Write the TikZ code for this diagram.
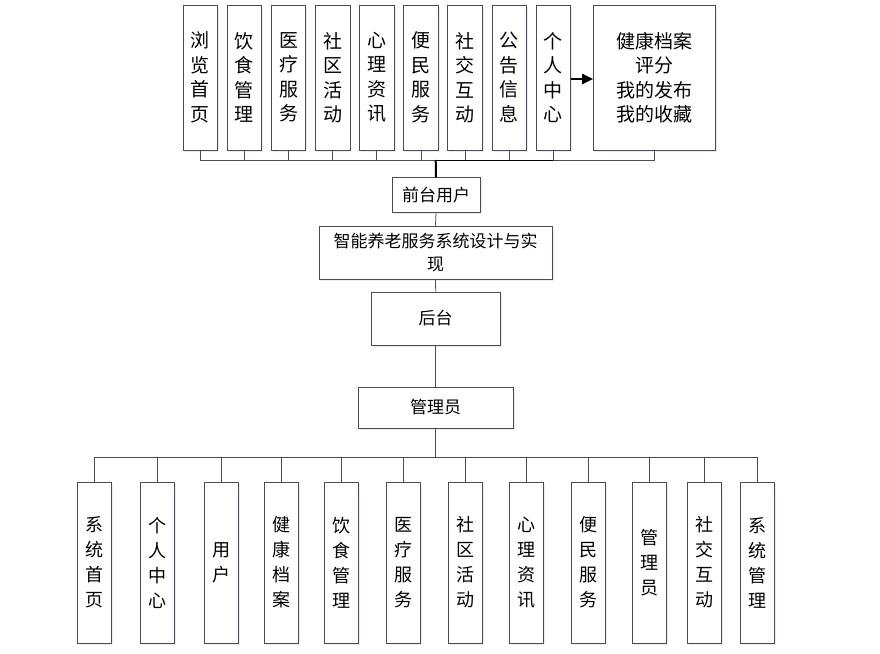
\documentclass[tikz,border=0pt]{standalone}
\usepackage{fontspec}
\setmainfont{Noto Sans CJK SC}
\usetikzlibrary{arrows.meta,shadows}
\begin{document}
\begin{tikzpicture}[x=1pt,y=-1pt,
  box/.style={draw=black!70,line width=0.8pt,fill=white,inner sep=0pt,align=center,
    drop shadow={shadow xshift=1.5pt,shadow yshift=-1.5pt,fill=blue!10,opacity=0.8}},
  topbox/.style={box,minimum width=34.5pt,minimum height=145pt,font=\fontsize{19}{24.5}\selectfont},
  botbox/.style={box,minimum width=34pt,minimum height=161pt,font=\fontsize{18}{25}\selectfont},
  midbox/.style={box,font=\fontsize{17}{23.5}\selectfont},
  bus/.style={draw=black!70,line width=0.8pt},
  darkline/.style={draw=black,line width=1pt},
  thickline/.style={draw=black,line width=2pt}]
\useasboundingbox (0,0) rectangle (880,653);

% top boxes
\node[topbox] (t1) at (200.2,77.5) {浏\\览\\首\\页};
\node[topbox] (t2) at (244.4,77.5) {饮\\食\\管\\理};
\node[topbox] (t3) at (288.5,77.5) {医\\疗\\服\\务};
\node[topbox] (t4) at (332.7,77.5) {社\\区\\活\\动};
\node[topbox] (t5) at (376.8,77.5) {心\\理\\资\\讯};
\node[topbox] (t6) at (421.0,77.5) {便\\民\\服\\务};
\node[topbox] (t7) at (465.1,77.5) {社\\交\\互\\动};
\node[topbox] (t8) at (509.3,77.5) {公\\告\\信\\息};
\node[topbox] (t9) at (553.4,77.5) {个\\人\\中\\心};
\node[topbox,minimum width=121.5pt] (t10) at (654.3,77.5) {健康档案\\评分\\我的发布\\我的收藏};

% middle boxes
\node[midbox,minimum width=88pt,minimum height=34.5pt] (front) at (436,195) {前台用户};
\node[midbox,minimum width=233pt,minimum height=53pt] (main) at (435.5,252.5) {智能养老服务系统设计与实\\现};
\node[midbox,minimum width=129pt,minimum height=53pt] (back) at (435.7,318.5) {后台};
\node[midbox,minimum width=155pt,minimum height=41pt] (admin) at (435.7,407.5) {管理员};

% bottom boxes
\node[botbox] (b1) at (94.2,562.5) {系\\统\\首\\页};
\node[botbox] (b2) at (157.8,562.5) {个\\人\\中\\心};
\node[botbox] (b3) at (221.2,562.5) {用\\户};
\node[botbox] (b4) at (281.2,562.5) {健\\康\\档\\案};
\node[botbox] (b5) at (341.7,562.5) {饮\\食\\管\\理};
\node[botbox] (b6) at (403.3,562.5) {医\\疗\\服\\务};
\node[botbox] (b7) at (465.0,562.5) {社\\区\\活\\动};
\node[botbox] (b8) at (526.7,562.5) {心\\理\\资\\讯};
\node[botbox] (b9) at (588.0,562.5) {便\\民\\服\\务};
\node[botbox] (b10) at (649.7,562.5) {管\\理\\员};
\node[botbox] (b11) at (704.2,562.5) {社\\交\\互\\动};
\node[botbox] (b12) at (757.8,562.5) {系\\统\\管\\理};

% top bus
\coordinate (tb) at (435.7,160);
\draw[bus] (t1.south) -- (t1.south |- tb) -- (t10.south |- tb) -- (t10.south);
\foreach \i in {2,...,9} { \draw[bus] (t\i.south) -- (t\i.south |- tb); }
\draw[darkline] (tb) -- (t9.south |- tb);
\draw[thickline] (tb) -- (front.north);
\draw[thickline,-{Triangle[length=11pt,width=10pt]}] (t9.east |- 0,79) -- (t10.west |- 0,79);

% spine
\draw[bus] (front.south) -- (main.north);
\draw[bus] (main.south) -- (back.north);
\draw[bus] (back.south) -- (admin.north);

% bottom bus
\coordinate (bb) at (435.7,457);
\draw[bus] (admin.south) -- (bb);
\draw[bus] (b1.north) -- (b1.north |- bb) -- (b12.north |- bb) -- (b12.north);
\foreach \i in {2,...,11} { \draw[bus] (b\i.north) -- (b\i.north |- bb); }
\end{tikzpicture}
\end{document}
